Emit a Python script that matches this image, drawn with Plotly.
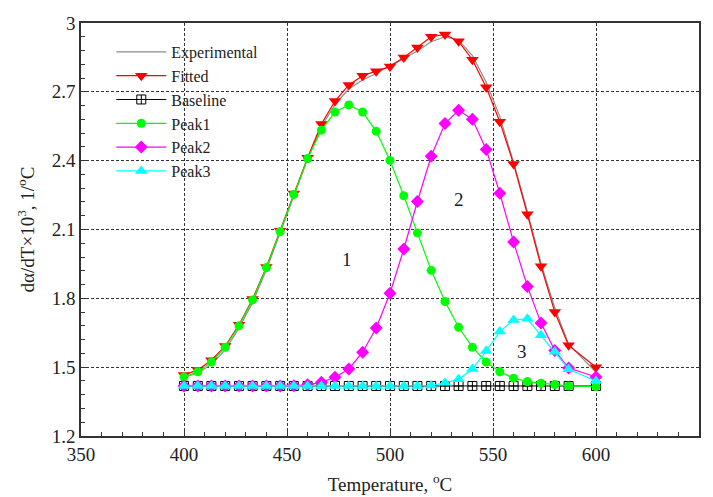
import plotly.graph_objects as go

# Temperature grid (°C)
temperature = [400, 406.7, 413.3, 420, 426.7, 433.3, 440, 446.7, 453.3, 460,
               466.7, 473.3, 480, 486.7, 493.3, 500, 506.7, 513.3, 520, 526.7,
               533.3, 540, 546.7, 553.3, 560, 566.7, 573.3, 580, 586.7, 600]

experimental = [1.455, 1.475, 1.512, 1.575, 1.670, 1.782, 1.925, 2.088, 2.250, 2.408,
                2.548, 2.645, 2.712, 2.752, 2.780, 2.815, 2.845, 2.878, 2.918, 2.940,
                2.925, 2.858, 2.742, 2.592, 2.392, 2.178, 1.952, 1.758, 1.600, 1.478]

fitted = [1.466, 1.488, 1.530, 1.592, 1.685, 1.797, 1.937, 2.095, 2.257, 2.413,
          2.560, 2.660, 2.730, 2.770, 2.790, 2.810, 2.850, 2.893, 2.940, 2.950,
          2.920, 2.840, 2.720, 2.570, 2.385, 2.166, 1.940, 1.740, 1.595, 1.500]

baseline = [1.418] * 30

peak1 = [1.457, 1.480, 1.522, 1.587, 1.680, 1.793, 1.934, 2.091, 2.253, 2.409,
         2.533, 2.612, 2.643, 2.612, 2.528, 2.401, 2.247, 2.085, 1.922, 1.786,
         1.674, 1.587, 1.522, 1.480, 1.452, 1.437, 1.430, 1.424, 1.418, 1.415]

peak2 = [1.418, 1.418, 1.418, 1.418, 1.418, 1.418, 1.418, 1.418, 1.419, 1.423,
         1.434, 1.456, 1.492, 1.565, 1.671, 1.822, 2.015, 2.222, 2.419, 2.562,
         2.620, 2.580, 2.449, 2.258, 2.045, 1.852, 1.692, 1.573, 1.496, 1.457]

peak3 = [1.418, 1.418, 1.418, 1.418, 1.418, 1.418, 1.418, 1.418, 1.418, 1.418,
         1.418, 1.418, 1.418, 1.418, 1.418, 1.418, 1.418, 1.418, 1.420, 1.432,
         1.447, 1.492, 1.570, 1.655, 1.706, 1.711, 1.639, 1.567, 1.491, 1.440]

x_ticks = [350, 400, 450, 500, 550, 600, 650]
y_ticks = [1.2, 1.5, 1.8, 2.1, 2.4, 2.7, 3.0]
y_tick_labels = ["1.2", "1.5", "1.8", "2.1", "2.4", "2.7", "3"]

peak_labels = ["1", "2", "3"]
peak_label_x = [479, 533.5, 564]
peak_label_y = [1.97, 2.23, 1.57]

FONT = "Liberation Serif, Times New Roman, serif"

fig = go.Figure()
fig.add_trace(go.Scatter(x=temperature, y=experimental, name="Experimental",
                         mode="lines", line=dict(color="#8c8c8c", width=1.2)))
fig.add_trace(go.Scatter(x=temperature, y=fitted, name="Fitted", mode="lines+markers",
                         line=dict(color="#ff0000", width=1.2),
                         marker=dict(symbol="triangle-down", size=11, color="#ff0000")))
fig.add_trace(go.Scatter(x=temperature, y=baseline, name="Baseline", mode="lines+markers",
                         line=dict(color="#000000", width=1),
                         marker=dict(symbol="square-cross-open", size=9, color="#000000",
                                     line=dict(width=1))))
fig.add_trace(go.Scatter(x=temperature, y=peak1, name="Peak1", mode="lines+markers",
                         line=dict(color="#00ff00", width=1.2),
                         marker=dict(symbol="circle", size=9, color="#00ff00")))
fig.add_trace(go.Scatter(x=temperature, y=peak2, name="Peak2", mode="lines+markers",
                         line=dict(color="#ff00ff", width=1.2),
                         marker=dict(symbol="diamond", size=10, color="#ff00ff")))
fig.add_trace(go.Scatter(x=temperature, y=peak3, name="Peak3", mode="lines+markers",
                         line=dict(color="#00ffff", width=1.2),
                         marker=dict(symbol="triangle-up", size=11, color="#00ffff")))

for t, xv, yv in zip(peak_labels, peak_label_x, peak_label_y):
    fig.add_annotation(x=xv, y=yv, text=t, showarrow=False,
                       font=dict(family=FONT, size=19, color="#1a1a2e"))

axis_common = dict(
    showline=True, linecolor="#333333", linewidth=1.5, mirror=True,
    showgrid=True, gridcolor="#333333", gridwidth=1, griddash="3px,2px",
    zeroline=False, ticks="inside", ticklen=6, tickcolor="#333333",
    tickfont=dict(family=FONT, size=19, color="#222222"),
    automargin=False,
)

fig.update_xaxes(range=[350, 650], tickvals=x_ticks, **axis_common,
                 minor=dict(dtick=10, ticks="inside", ticklen=4, tickcolor="#333333",
                            showgrid=False),
                 title=dict(text="Temperature, <sup>o</sup>C",
                            font=dict(family=FONT, size=19, color="#222222"), standoff=14))
fig.update_yaxes(range=[1.2, 3.0], tickvals=y_ticks, ticktext=y_tick_labels, **axis_common,
                 minor=dict(dtick=0.06, ticks="inside", ticklen=4, tickcolor="#333333",
                            showgrid=False),
                 title=dict(text="dα/dT×10<sup>3</sup>, 1/<sup>o</sup>C",
                            font=dict(family=FONT, size=19, color="#222222"), standoff=12))

fig.update_layout(
    width=713, height=497,
    margin=dict(l=81, r=14, t=23, b=61),
    plot_bgcolor="white", paper_bgcolor="white",
    font=dict(family=FONT, size=19),
    legend=dict(x=0.049, y=0.971, xanchor="left", yanchor="top",
                bgcolor="rgba(0,0,0,0)", borderwidth=0,
                font=dict(family=FONT, size=16, color="#222222"),
                itemwidth=50, tracegroupgap=0),
    showlegend=True,
)

fig.write_html("out.html", config={"displayModeBar": False},
               post_script="document.body.style.margin='0';document.body.style.overflow='hidden';")
